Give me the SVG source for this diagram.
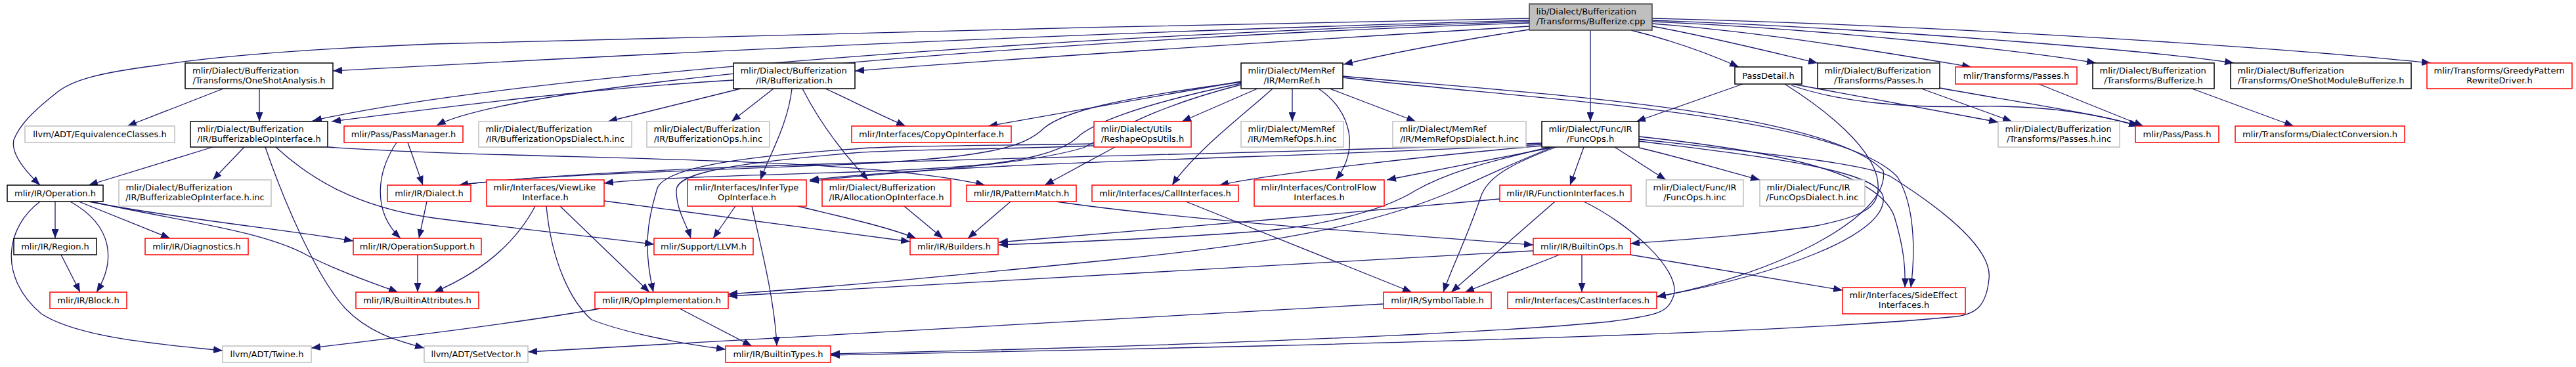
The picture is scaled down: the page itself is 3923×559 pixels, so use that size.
<svg xmlns="http://www.w3.org/2000/svg" width="3923" height="559" viewBox="0 0 3923 559">
<style>
.node rect{fill:#fff;stroke-width:1.5}
.blk rect{stroke:#000}
.red rect{stroke:#ff0000}
.gry rect{stroke:#bfbfbf}
.root rect{fill:#bfbfbf;stroke:#404040}
text{font-family:"DejaVu Sans","Liberation Sans",sans-serif;font-size:13px;fill:#000}
.c{text-anchor:middle}
#edges path{fill:none;stroke:#191970;stroke-width:1.3;marker-end:url(#ah)}
</style>
<defs>
<marker id="ah" markerUnits="userSpaceOnUse" markerWidth="14" markerHeight="11" refX="14" refY="5.5" orient="auto"><path d="M0,0 L14,5.5 L0,11 z" fill="#191970"/></marker>
</defs>
<rect width="3923" height="559" fill="#fff"/>
<g id="edges">
<path d="M2329,28 C1800,38 1000,56 660,67 C480,74 340,84 236,100 C160,110 110,120 84,143 C50,170 30,190 21,213 C16,235 40,262 61,282"/>
<path d="M2329,31 C1800,45 1200,70 507,108"/>
<path d="M2329,33 C1700,50 800,110 476,184"/>
<path d="M2329,35 C1700,55 800,120 665,191"/>
<path d="M2329,40 C2000,60 1600,85 1302,108"/>
<path d="M2329,45 C2200,65 2100,85 2046,98"/>
<path d="M2422,46 L2422,185"/>
<path d="M2484,46 C2560,65 2610,85 2648,102"/>
<path d="M2516,40 C2600,55 2700,80 2768,96"/>
<path d="M2516,36 C2700,50 2900,85 3002,102"/>
<path d="M2516,33 C2800,45 3100,80 3192,96"/>
<path d="M2516,31 C2900,45 3300,80 3402,96"/>
<path d="M2516,28 C3000,40 3500,75 3702,96"/>
<path d="M340,135 L194,192"/>
<path d="M395,135 L395,185"/>
<path d="M324,224 L135,282"/>
<path d="M372,224 L324,274"/>
<path d="M404,224 C430,300 480,420 526,470 C560,505 600,518 646,530"/>
<path d="M420,224 C470,270 540,315 660,332 C800,350 900,360 996,372"/>
<path d="M499,224 C800,245 1300,235 1500,282"/>
<path d="M621,217 L644,282"/>
<path d="M604,217 C575,260 565,320 610,363"/>
<path d="M650,307 L638,363"/>
<path d="M636,388 L636,445"/>
<path d="M84,307 L84,363"/>
<path d="M107,307 C175,345 175,400 147,445"/>
<path d="M120,307 L259,363"/>
<path d="M135,307 C250,330 450,352 538,367"/>
<path d="M139,307 C260,335 400,350 470,390 C530,420 580,435 606,445"/>
<path d="M61,307 C10,345 -5,420 63,478 C120,515 250,525 339,534"/>
<path d="M93,388 L122,445"/>
<path d="M914,470 C800,490 600,515 474,530"/>
<path d="M1035,470 L1145,527"/>
<path d="M815,314 C780,380 720,420 661,445"/>
<path d="M832,314 C840,400 870,460 901,487 C960,510 1050,525 1105,532"/>
<path d="M853,314 L989,445"/>
<path d="M920,306 C1100,330 1250,350 1386,368"/>
<path d="M1120,314 L1086,363"/>
<path d="M1145,314 C1160,380 1180,460 1183,527"/>
<path d="M1215,314 C1280,330 1350,345 1395,363"/>
<path d="M1377,314 L1436,363"/>
<path d="M1539,307 L1474,363"/>
<path d="M1608,307 C1800,335 2100,355 2335,373"/>
<path d="M1806,307 L2150,445"/>
<path d="M2368,307 L2210,445"/>
<path d="M2284,303 L1940,334 C1800,346 1650,358 1521,369"/>
<path d="M2412,307 C2480,340 2560,410 2549,450 C2540,475 2530,480 2450,490 C2250,510 1700,530 1265,539"/>
<path d="M2375,388 L2231,445"/>
<path d="M2409,388 L2409,445"/>
<path d="M2335,382 L1109,451"/>
<path d="M2483,388 L2806,442"/>
<path d="M2107,463 L804,536"/>
<path d="M2412,224 L2391,282"/>
<path d="M2459,224 L2537,274"/>
<path d="M2496,225 C2560,240 2620,258 2680,274"/>
<path d="M2362,225 L2112,274"/>
<path d="M2496,208 C2700,230 2860,260 2885,330 C2900,380 2902,410 2901,438"/>
<path d="M2496,212 C2700,235 2850,250 2881,270 C2960,320 3035,380 3029,425 C3025,465 3010,478 2980,482 C2800,500 2400,515 1920,527 C1700,532 1500,537 1265,541"/>
<path d="M2496,215 C2700,240 2860,260 2868,300 C2875,360 2700,420 2523,452"/>
<path d="M2370,224 C2300,250 2265,270 2255,300 C2235,360 2210,410 2198,445"/>
<path d="M2365,224 C2300,250 2270,265 2215,290 C2100,340 1950,370 1700,395 C1500,415 1300,435 1109,448"/>
<path d="M2360,224 C2250,250 2200,265 2156,290 C2100,325 2000,345 1920,352 C1800,362 1650,368 1521,373"/>
<path d="M2348,222 C2200,235 1950,262 1857,282"/>
<path d="M2348,220 C2000,240 1500,245 1233,274"/>
<path d="M2348,218 C1800,240 1000,245 699,282"/>
<path d="M1915,135 L1800,185"/>
<path d="M1890,124 L1505,192"/>
<path d="M1938,135 C1900,170 1820,230 1785,282"/>
<path d="M1968,135 L1968,185"/>
<path d="M2008,135 C2060,170 2070,230 2034,274"/>
<path d="M2025,135 L2156,185"/>
<path d="M1890,125 C1700,150 1620,170 1590,195 C1560,225 1500,240 1300,250 C1000,262 800,268 699,282"/>
<path d="M1890,127 C1730,160 1660,190 1640,210 C1600,245 1500,255 1300,262 C1100,268 980,272 920,279"/>
<path d="M1890,129 C1750,165 1700,200 1650,225 C1550,255 1350,262 1233,276"/>
<path d="M2045,116 C2300,140 2780,165 2868,260 C2880,330 2700,420 2523,452"/>
<path d="M2045,118 C2300,150 2800,170 2890,270 C2920,320 2915,400 2910,438"/>
<path d="M1117,122 C900,135 700,160 505,185"/>
<path d="M1128,135 L926,185"/>
<path d="M1178,135 L1114,185"/>
<path d="M1206,135 C1200,190 1170,240 1158,274"/>
<path d="M1222,135 C1250,190 1290,240 1322,274"/>
<path d="M1257,135 C1300,155 1340,175 1379,192"/>
<path d="M1698,224 L1591,282"/>
<path d="M1666,222 C1500,228 1350,228 1300,233 C1100,250 1030,265 1030,290 C1030,320 1045,340 1052,363"/>
<path d="M1666,219 C1500,222 1350,222 1300,227 C1100,240 1005,260 1000,290 C985,340 980,380 995,445"/>
<path d="M2654,128 L2492,185"/>
<path d="M2730,128 L3043,186"/>
<path d="M2728,130 C2800,155 2900,165 3010,162 C3120,160 3200,175 3256,192"/>
<path d="M2718,128 C2800,180 2865,240 2860,290 C2858,315 2840,330 2760,345 C2650,360 2560,365 2483,371"/>
<path d="M2926,135 L3064,185"/>
<path d="M2954,134 C3100,160 3200,175 3258,192"/>
<path d="M3105,128 L3264,192"/>
<path d="M3338,135 L3493,192"/>
</g>
<g id="n0" class="node root"><rect x="2329" y="6" width="187" height="40"/><text x="2339.5" y="22">lib/Dialect/Bufferization</text><text class="c" x="2422.5" y="37">/Transforms/Bufferize.cpp</text></g>
<g id="n1" class="node blk"><rect x="282" y="96" width="225" height="39"/><text x="293" y="112">mlir/Dialect/Bufferization</text><text class="c" x="394.5" y="127">/Transforms/OneShotAnalysis.h</text></g>
<g id="n2" class="node blk"><rect x="290" y="185" width="209" height="39"/><text x="300.5" y="201">mlir/Dialect/Bufferization</text><text class="c" x="394.5" y="216">/IR/BufferizableOpInterface.h</text></g>
<g id="n3" class="node gry"><rect x="38" y="192" width="228" height="25"/><text class="c" x="152" y="208.5">llvm/ADT/EquivalenceClasses.h</text></g>
<g id="n4" class="node red"><rect x="524" y="192" width="181" height="25"/><text class="c" x="614.5" y="208.5">mlir/Pass/PassManager.h</text></g>
<g id="n5" class="node blk"><rect x="11" y="282" width="146" height="25"/><text class="c" x="84" y="298.5">mlir/IR/Operation.h</text></g>
<g id="n6" class="node gry"><rect x="181" y="274" width="232" height="40"/><text x="191.5" y="290">mlir/Dialect/Bufferization</text><text class="c" x="297" y="305">/IR/BufferizableOpInterface.h.inc</text></g>
<g id="n7" class="node blk"><rect x="1117" y="96" width="185" height="39"/><text x="1127.5" y="112">mlir/Dialect/Bufferization</text><text class="c" x="1209.5" y="127">/IR/Bufferization.h</text></g>
<g id="n8" class="node gry"><rect x="729" y="185" width="233" height="39"/><text x="739.5" y="201">mlir/Dialect/Bufferization</text><text class="c" x="845.5" y="216">/IR/BufferizationOpsDialect.h.inc</text></g>
<g id="n9" class="node gry"><rect x="985" y="185" width="187" height="39"/><text x="995.5" y="201">mlir/Dialect/Bufferization</text><text class="c" x="1078.5" y="216">/IR/BufferizationOps.h.inc</text></g>
<g id="n10" class="node red"><rect x="741" y="274" width="179" height="40"/><text x="751.5" y="290">mlir/Interfaces/ViewLike</text><text class="c" x="830.5" y="305">Interface.h</text></g>
<g id="n11" class="node red"><rect x="1047" y="274" width="181" height="40"/><text x="1057.5" y="290">mlir/Interfaces/InferType</text><text class="c" x="1137.5" y="305">OpInterface.h</text></g>
<g id="n12" class="node red"><rect x="1252" y="274" width="196" height="40"/><text x="1262.5" y="290">mlir/Dialect/Bufferization</text><text class="c" x="1350" y="305">/IR/AllocationOpInterface.h</text></g>
<g id="n13" class="node red"><rect x="590" y="282" width="127" height="25"/><text class="c" x="653.5" y="298.5">mlir/IR/Dialect.h</text></g>
<g id="n14" class="node red"><rect x="538" y="363" width="195" height="25"/><text class="c" x="635.5" y="379.5">mlir/IR/OperationSupport.h</text></g>
<g id="n15" class="node red"><rect x="542" y="445" width="187" height="25"/><text class="c" x="635.5" y="461.5">mlir/IR/BuiltinAttributes.h</text></g>
<g id="n16" class="node blk"><rect x="21" y="363" width="126" height="25"/><text class="c" x="84" y="379.5">mlir/IR/Region.h</text></g>
<g id="n17" class="node red"><rect x="221" y="363" width="157" height="25"/><text class="c" x="299.5" y="379.5">mlir/IR/Diagnostics.h</text></g>
<g id="n18" class="node red"><rect x="76" y="445" width="117" height="25"/><text class="c" x="134.5" y="461.5">mlir/IR/Block.h</text></g>
<g id="n19" class="node gry"><rect x="339" y="527" width="135" height="25"/><text class="c" x="406.5" y="543.5">llvm/ADT/Twine.h</text></g>
<g id="n20" class="node gry"><rect x="646" y="527" width="158" height="25"/><text class="c" x="725" y="543.5">llvm/ADT/SetVector.h</text></g>
<g id="n21" class="node red"><rect x="996" y="363" width="151" height="25"/><text class="c" x="1071.5" y="379.5">mlir/Support/LLVM.h</text></g>
<g id="n22" class="node red"><rect x="906" y="445" width="203" height="25"/><text class="c" x="1007.5" y="461.5">mlir/IR/OpImplementation.h</text></g>
<g id="n23" class="node red"><rect x="1105" y="527" width="160" height="25"/><text class="c" x="1185" y="543.5">mlir/IR/BuiltinTypes.h</text></g>
<g id="n24" class="node red"><rect x="1472" y="282" width="167" height="25"/><text class="c" x="1555.5" y="298.5">mlir/IR/PatternMatch.h</text></g>
<g id="n25" class="node red"><rect x="1663" y="282" width="223" height="25"/><text class="c" x="1774.5" y="298.5">mlir/Interfaces/CallInterfaces.h</text></g>
<g id="n26" class="node red"><rect x="1910" y="274" width="198" height="40"/><text x="1920.5" y="290">mlir/Interfaces/ControlFlow</text><text class="c" x="2009" y="305">Interfaces.h</text></g>
<g id="n27" class="node red"><rect x="1386" y="363" width="134" height="25"/><text class="c" x="1453" y="379.5">mlir/IR/Builders.h</text></g>
<g id="n28" class="node red"><rect x="1297" y="192" width="243" height="25"/><text class="c" x="1418.5" y="208.5">mlir/Interfaces/CopyOpInterface.h</text></g>
<g id="n29" class="node red"><rect x="1666" y="185" width="148" height="39"/><text x="1676.5" y="201">mlir/Dialect/Utils</text><text class="c" x="1740" y="216">/ReshapeOpsUtils.h</text></g>
<g id="n30" class="node blk"><rect x="1890" y="96" width="155" height="39"/><text x="1900.5" y="112">mlir/Dialect/MemRef</text><text class="c" x="1967.5" y="127">/IR/MemRef.h</text></g>
<g id="n31" class="node gry"><rect x="1890" y="185" width="156" height="39"/><text x="1900.5" y="201">mlir/Dialect/MemRef</text><text class="c" x="1968" y="216">/IR/MemRefOps.h.inc</text></g>
<g id="n32" class="node gry"><rect x="2121" y="185" width="203" height="39"/><text x="2131.5" y="201">mlir/Dialect/MemRef</text><text class="c" x="2222.5" y="216">/IR/MemRefOpsDialect.h.inc</text></g>
<g id="n33" class="node blk"><rect x="2348" y="185" width="148" height="39"/><text x="2358.5" y="201">mlir/Dialect/Func/IR</text><text class="c" x="2422" y="216">/FuncOps.h</text></g>
<g id="n34" class="node red"><rect x="2284" y="282" width="200" height="25"/><text class="c" x="2384" y="298.5">mlir/IR/FunctionInterfaces.h</text></g>
<g id="n35" class="node gry"><rect x="2507" y="274" width="148" height="40"/><text x="2517.5" y="290">mlir/Dialect/Func/IR</text><text class="c" x="2581" y="305">/FuncOps.h.inc</text></g>
<g id="n36" class="node gry"><rect x="2680" y="274" width="160" height="40"/><text x="2690.5" y="290">mlir/Dialect/Func/IR</text><text class="c" x="2760" y="305">/FuncOpsDialect.h.inc</text></g>
<g id="n37" class="node red"><rect x="2335" y="363" width="148" height="25"/><text class="c" x="2409" y="379.5">mlir/IR/BuiltinOps.h</text></g>
<g id="n38" class="node red"><rect x="2107" y="445" width="164" height="25"/><text class="c" x="2189" y="461.5">mlir/IR/SymbolTable.h</text></g>
<g id="n39" class="node red"><rect x="2296" y="445" width="227" height="25"/><text class="c" x="2409.5" y="461.5">mlir/Interfaces/CastInterfaces.h</text></g>
<g id="n40" class="node red"><rect x="2806" y="438" width="187" height="40"/><text x="2816.5" y="454">mlir/Interfaces/SideEffect</text><text class="c" x="2899.5" y="469">Interfaces.h</text></g>
<g id="n41" class="node blk"><rect x="2642" y="102" width="102" height="26"/><text class="c" x="2693" y="119.5">PassDetail.h</text></g>
<g id="n42" class="node blk"><rect x="2768" y="96" width="186" height="39"/><text x="2778.5" y="112">mlir/Dialect/Bufferization</text><text class="c" x="2861" y="127">/Transforms/Passes.h</text></g>
<g id="n43" class="node red"><rect x="2978" y="102" width="185" height="26"/><text class="c" x="3070.5" y="119.5">mlir/Transforms/Passes.h</text></g>
<g id="n44" class="node blk"><rect x="3187" y="96" width="185" height="39"/><text x="3197.5" y="112">mlir/Dialect/Bufferization</text><text class="c" x="3279.5" y="127">/Transforms/Bufferize.h</text></g>
<g id="n45" class="node gry"><rect x="3043" y="185" width="185" height="39"/><text x="3053.5" y="201">mlir/Dialect/Bufferization</text><text class="c" x="3135.5" y="216">/Transforms/Passes.h.inc</text></g>
<g id="n46" class="node red"><rect x="3252" y="192" width="127" height="25"/><text class="c" x="3315.5" y="208.5">mlir/Pass/Pass.h</text></g>
<g id="n47" class="node blk"><rect x="3397" y="96" width="275" height="39"/><text x="3407.5" y="112">mlir/Dialect/Bufferization</text><text class="c" x="3534.5" y="127">/Transforms/OneShotModuleBufferize.h</text></g>
<g id="n48" class="node red"><rect x="3696" y="96" width="221" height="39"/><text x="3706.5" y="112">mlir/Transforms/GreedyPattern</text><text class="c" x="3806.5" y="127">RewriteDriver.h</text></g>
<g id="n49" class="node red"><rect x="3404" y="192" width="258" height="25"/><text class="c" x="3533" y="208.5">mlir/Transforms/DialectConversion.h</text></g>
</svg>
